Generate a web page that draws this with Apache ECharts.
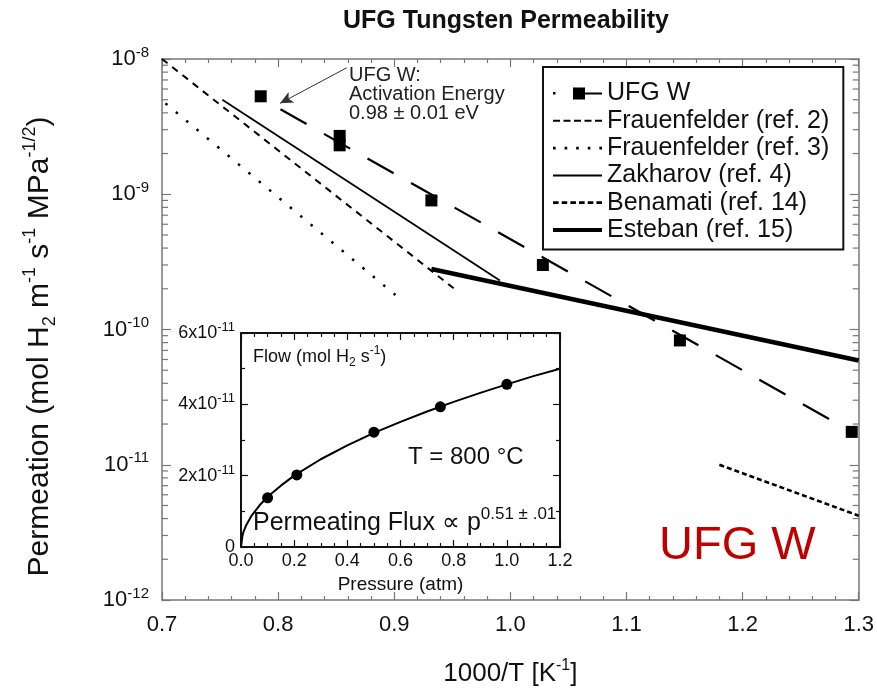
<!DOCTYPE html>
<html>
<head>
<meta charset="utf-8">
<script src="https://cdn.jsdelivr.net/npm/echarts@6.0.0/dist/echarts.min.js"></script>
<style>
  html, body { margin: 0; padding: 0; background: #fff; }
  #chart { width: 877px; height: 695px; }
</style>
</head>
<body>
<div id="chart"></div>
<script>
  // main plot: permeation vs 1000/T
  const ufgX = [0.785, 0.853, 0.853, 0.932, 1.028, 1.146, 1.294];
  const ufgY = [5.3e-9, 2.7e-9, 2.3e-9, 9.0e-10, 3.0e-10, 8.3e-11, 1.75e-11];
  const ufgFitX = [0.802, 1.294];
  const ufgFitY = [4.25e-9, 1.75e-11];
  const frau2X = [0.700, 0.954];
  const frau2Y = [1.0e-8, 1.93e-10];
  const frau3X = [0.703, 0.901];
  const frau3Y = [4.7e-9, 1.8e-10];
  const zakX = [0.752, 0.991];
  const zakY = [5.0e-9, 2.3e-10];
  const benX = [1.180, 1.300];
  const benY = [1.0e-11, 4.2e-12];
  const estX = [0.932, 1.300];
  const estY = [2.8e-10, 5.9e-11];

  // inset: flow vs pressure at 800 C
  const insetP = [0.1, 0.21, 0.5, 0.75, 1.0];
  const insetFlow = [1.38e-11, 2.02e-11, 3.22e-11, 3.93e-11, 4.56e-11];
  const curveP = [0, 0.005, 0.01, 0.02, 0.04, 0.07, 0.1, 0.15, 0.2, 0.3, 0.4, 0.5, 0.6, 0.7, 0.8, 0.9, 1.0, 1.1, 1.2];
  const curveFlow = [0, 0.30e-11, 0.44e-11, 0.62e-11, 0.88e-11, 1.17e-11, 1.41e-11, 1.72e-11, 2.0e-11, 2.46e-11,
    2.85e-11, 3.2e-11, 3.51e-11, 3.8e-11, 4.07e-11, 4.32e-11, 4.56e-11, 4.79e-11, 5.0e-11];

  // log minor ticks
  const decades = [1e-12, 1e-11, 1e-10, 1e-9];
  const mantissas = [2, 3, 4, 5, 6, 7, 8, 9];

  const FONT = '"Liberation Sans", Arial, Helvetica, sans-serif';
  const AX = '#777';

  function pairs(xs, ys) {
    return xs.map((x, i) => [x, ys[i]]);
  }

  const minorTicks = [];
  decades.forEach(d => mantissas.forEach(m => minorTicks.push([0.7, d * m])));

  // legend icons (drawn line samples)
  const icons = {
    ufg: 'path://M0,5h2.5v2.5h-2.5z M20,0.5h12v12h-12z M32,5.5h17v2h-17z',
    frau2: 'path://M0,0h7v2h-7z M10.5,0h7v2h-7z M21,0h7v2h-7z M31.5,0h7v2h-7z M42,0h7v2h-7z',
    frau3: 'path://M0,0h2.5v2.5h-2.5z M11,0h2.5v2.5h-2.5z M22,0h2.5v2.5h-2.5z M33,0h2.5v2.5h-2.5z M44,0h2.5v2.5h-2.5z',
    zak: 'path://M0,0h49v2h-49z',
    ben: 'path://M4,0h4.5v2.2h-4.5z M11,0h4.5v2.2h-4.5z M18,0h4.5v2.2h-4.5z M25,0h4.5v2.2h-4.5z M32,0h4.5v2.2h-4.5z M39,0h4.5v2.2h-4.5z',
    est: 'path://M0,0h49v4h-49z'
  };

  let myChart = echarts.init(document.getElementById('chart'));

  const onZeroOff = { onZero: false };

  let option = {
    animation: false,
    backgroundColor: '#fff',
    textStyle: { fontFamily: FONT },
    title: {
      text: 'UFG Tungsten Permeability',
      left: 338,
      top: 4,
      textStyle: { fontSize: 25, fontWeight: 'bold', color: '#111', fontFamily: FONT }
    },
    legend: {
      orient: 'vertical',
      left: 543,
      top: 67,
      padding: [14, 14, 7, 10],
      borderColor: '#111',
      borderWidth: 2,
      itemWidth: 49,
      itemHeight: 14,
      itemGap: 2.3,
      textStyle: { fontSize: 25, lineHeight: 25, color: '#111', fontFamily: FONT },
      data: [
        { name: 'UFG W', icon: icons.ufg },
        { name: 'Frauenfelder (ref. 2)', icon: icons.frau2 },
        { name: 'Frauenfelder (ref. 3)', icon: icons.frau3 },
        { name: 'Zakharov (ref. 4)', icon: icons.zak },
        { name: 'Benamati (ref. 14)', icon: icons.ben },
        { name: 'Esteban (ref. 15)', icon: icons.est }
      ]
    },
    grid: [
      { left: 162, right: 18, top: 59, bottom: 88 },
      { left: 241, right: 317, top: 333, bottom: 148, show: true, backgroundColor: '#fff', borderWidth: 0 }
    ],
    xAxis: [
      {
        type: 'value', gridIndex: 0, min: 0.7, max: 1.3, interval: 0.1,
        name: '1000/T [K{s|-1}]', nameLocation: 'middle', nameGap: 58,
        nameTextStyle: {
          fontSize: 26, color: '#111', fontFamily: FONT, lineHeight: 32,
          rich: { s: { fontSize: 16, color: '#111', fontFamily: FONT, verticalAlign: 'top', lineHeight: 16 } }
        },
        axisLine: Object.assign({ lineStyle: { color: AX, width: 1.5 } }, onZeroOff),
        axisTick: { inside: true, length: 8, lineStyle: { color: AX, width: 1.2 } },
        minorTick: { show: true, splitNumber: 5, length: 4, lineStyle: { color: AX, width: 1.2 } },
        splitLine: { show: false },
        axisLabel: { fontSize: 22, color: '#111', margin: 14, formatter: v => v.toFixed(1) }
      },
      {
        type: 'value', gridIndex: 0, position: 'top', min: 0.7, max: 1.3, interval: 0.1,
        axisLine: Object.assign({ lineStyle: { color: AX, width: 1.5 } }, onZeroOff),
        axisTick: { inside: true, length: 8, lineStyle: { color: AX, width: 1.2 } },
        minorTick: { show: true, splitNumber: 5, length: 4, lineStyle: { color: AX, width: 1.2 } },
        splitLine: { show: false },
        axisLabel: { show: false }
      },
      {
        type: 'value', gridIndex: 1, min: 0, max: 1.2, interval: 0.2,
        name: 'Pressure (atm)', nameLocation: 'middle', nameGap: 28,
        nameTextStyle: { fontSize: 19, color: '#111', fontFamily: FONT },
        axisLine: Object.assign({ lineStyle: { color: '#111', width: 2 } }, onZeroOff),
        axisTick: { inside: true, length: 7, lineStyle: { color: '#111', width: 1.2 } },
        minorTick: { show: true, splitNumber: 4, length: 4, lineStyle: { color: '#111', width: 1.2 } },
        splitLine: { show: false },
        axisLabel: { fontSize: 18, color: '#111', margin: 5, formatter: v => v.toFixed(1) }
      },
      {
        type: 'value', gridIndex: 1, position: 'top', min: 0, max: 1.2, interval: 0.2,
        axisLine: Object.assign({ lineStyle: { color: '#111', width: 2 } }, onZeroOff),
        axisTick: { inside: true, length: 7, lineStyle: { color: '#111', width: 1.2 } },
        minorTick: { show: true, splitNumber: 4, length: 4, lineStyle: { color: '#111', width: 1.2 } },
        splitLine: { show: false },
        axisLabel: { show: false }
      }
    ],
    yAxis: [
      {
        type: 'log', logBase: 10, gridIndex: 0, min: 1e-12, max: 1e-8,
        name: 'Permeation (mol H{b|2} m{s|-1} s{s|-1} MPa{s|-1/2})',
        nameLocation: 'middle', nameGap: 103,
        nameTextStyle: {
          fontSize: 30, color: '#111', fontFamily: FONT, lineHeight: 38, padding: [0, 34, 0, 0],
          rich: {
            s: { fontSize: 18, color: '#111', fontFamily: FONT, verticalAlign: 'top', lineHeight: 18 },
            b: { fontSize: 18, color: '#111', fontFamily: FONT, verticalAlign: 'bottom', lineHeight: 18 }
          }
        },
        axisLine: Object.assign({ lineStyle: { color: AX, width: 1.5 } }, onZeroOff),
        axisTick: { inside: true, length: 9, lineStyle: { color: AX, width: 1.2 } },
        splitLine: { show: false },
        axisLabel: {
          fontSize: 22, color: '#111', margin: 13, lineHeight: 28,
          formatter: v => '10{s|' + Math.round(Math.log10(v)) + '}',
          rich: { s: { fontSize: 15, color: '#111', fontFamily: FONT, verticalAlign: 'top', lineHeight: 13 } }
        }
      },
      {
        type: 'log', logBase: 10, gridIndex: 0, position: 'right', min: 1e-12, max: 1e-8,
        axisLine: Object.assign({ lineStyle: { color: AX, width: 1.5 } }, onZeroOff),
        axisTick: { inside: true, length: 9, lineStyle: { color: AX, width: 1.2 } },
        splitLine: { show: false },
        axisLabel: { show: false }
      },
      {
        type: 'value', gridIndex: 1, min: 0, max: 6e-11, interval: 2e-11,
        axisLine: Object.assign({ lineStyle: { color: '#111', width: 2 } }, onZeroOff),
        axisTick: { inside: true, length: 7, lineStyle: { color: '#111', width: 1.2 } },
        minorTick: { show: true, splitNumber: 2, length: 4, lineStyle: { color: '#111', width: 1.2 } },
        splitLine: { show: false },
        axisLabel: {
          fontSize: 18, color: '#111', margin: 6, lineHeight: 24,
          formatter: v => {
            const n = Math.round(v * 1e11);
            return n === 0 ? '0' : n + 'x10{s|-11}';
          },
          rich: { s: { fontSize: 13, color: '#111', fontFamily: FONT, verticalAlign: 'top', lineHeight: 11 } }
        }
      },
      {
        type: 'value', gridIndex: 1, position: 'right', min: 0, max: 6e-11, interval: 2e-11,
        axisLine: Object.assign({ lineStyle: { color: '#111', width: 2 } }, onZeroOff),
        axisTick: { inside: true, length: 7, lineStyle: { color: '#111', width: 1.2 } },
        minorTick: { show: true, splitNumber: 2, length: 4, lineStyle: { color: '#111', width: 1.2 } },
        splitLine: { show: false },
        axisLabel: { show: false }
      }
    ],
    series: [
      {
        name: 'UFG W', type: 'scatter', xAxisIndex: 0, yAxisIndex: 0,
        symbol: 'rect', symbolSize: 12, itemStyle: { color: '#000', opacity: 1 },
        data: pairs(ufgX, ufgY),
        z: 5
      },
      {
        name: 'UFG W fit', type: 'line', xAxisIndex: 0, yAxisIndex: 0, symbol: 'none',
        lineStyle: { color: '#000', width: 2.2, type: [30, 20] },
        data: pairs(ufgFitX, ufgFitY),
        markLine: {
          silent: true, symbol: ['none', 'arrow'], symbolSize: [9, 13],
          label: { show: false },
          lineStyle: { color: '#333', width: 1, type: 'solid' },
          data: [[{ coord: [0.859, 8.6e-9] }, { coord: [0.8016, 4.7e-9] }]]
        }
      },
      {
        name: 'Frauenfelder (ref. 2)', type: 'line', xAxisIndex: 0, yAxisIndex: 0, symbol: 'none',
        itemStyle: { color: '#000' },
        lineStyle: { color: '#000', width: 2, type: [7, 6] },
        data: pairs(frau2X, frau2Y)
      },
      {
        name: 'Frauenfelder (ref. 3)', type: 'line', xAxisIndex: 0, yAxisIndex: 0, symbol: 'none',
        itemStyle: { color: '#000' },
        lineStyle: { color: '#000', width: 2.5, type: [2.5, 11] },
        data: pairs(frau3X, frau3Y)
      },
      {
        name: 'Zakharov (ref. 4)', type: 'line', xAxisIndex: 0, yAxisIndex: 0, symbol: 'none',
        itemStyle: { color: '#000' },
        lineStyle: { color: '#000', width: 1.8, type: 'solid' },
        data: pairs(zakX, zakY)
      },
      {
        name: 'Benamati (ref. 14)', type: 'line', xAxisIndex: 0, yAxisIndex: 0, symbol: 'none',
        itemStyle: { color: '#000' },
        lineStyle: { color: '#000', width: 2.5, type: [5, 3] },
        data: pairs(benX, benY)
      },
      {
        name: 'Esteban (ref. 15)', type: 'line', xAxisIndex: 0, yAxisIndex: 0, symbol: 'none',
        itemStyle: { color: '#000' },
        lineStyle: { color: '#000', width: 4.5, type: 'solid' },
        data: pairs(estX, estY)
      },
      {
        name: 'logMinor', type: 'custom', xAxisIndex: 0, yAxisIndex: 0, silent: true,
        renderItem: (params, api) => {
          const v = api.value(1);
          const pl = api.coord([0.7, v]);
          const pr = api.coord([1.3, v]);
          const st = { stroke: AX, lineWidth: 1.2 };
          return {
            type: 'group',
            children: [
              { type: 'line', shape: { x1: pl[0], y1: pl[1], x2: pl[0] + 6, y2: pl[1] }, style: st },
              { type: 'line', shape: { x1: pr[0], y1: pr[1], x2: pr[0] - 6, y2: pr[1] }, style: st }
            ]
          };
        },
        data: minorTicks
      },
      {
        name: 'flow curve', type: 'line', xAxisIndex: 2, yAxisIndex: 2, symbol: 'none',
        lineStyle: { color: '#000', width: 2 },
        data: pairs(curveP, curveFlow)
      },
      {
        name: 'flow points', type: 'scatter', xAxisIndex: 2, yAxisIndex: 2,
        symbol: 'circle', symbolSize: 11, itemStyle: { color: '#000', opacity: 1 },
        data: pairs(insetP, insetFlow)
      }
    ],
    graphic: [
      {
        type: 'text', left: 349, top: 65,
        style: {
          text: 'UFG W:\nActivation Energy\n0.98 \u00b1 0.01 eV',
          fontSize: 20, lineHeight: 19, fill: '#222', fontFamily: FONT
        }
      },
      {
        type: 'text', left: 659, top: 523,
        style: { text: 'UFG W', fontSize: 47, fill: '#c00000', fontFamily: FONT }
      },
      {
        type: 'text', left: 253, top: 345, z: 10,
        style: {
          text: 'Flow (mol H{b|2} s{s|-1})',
          fontSize: 18, fill: '#111', fontFamily: FONT, lineHeight: 24,
          rich: {
            s: { fontSize: 12, fill: '#111', fontFamily: FONT, verticalAlign: 'top', lineHeight: 12 },
            b: { fontSize: 12, fill: '#111', fontFamily: FONT, verticalAlign: 'bottom', lineHeight: 12 }
          }
        }
      },
      {
        type: 'text', left: 408, top: 445, z: 10,
        style: { text: 'T = 800 \u00b0C', fontSize: 24, fill: '#111', fontFamily: FONT }
      },
      {
        type: 'text', left: 253, top: 506, z: 10,
        style: {
          text: 'Permeating Flux \u221d p{s|0.51 \u00b1 .01}',
          fontSize: 25, fill: '#111', fontFamily: FONT, lineHeight: 34,
          rich: { s: { fontSize: 17, fill: '#111', fontFamily: FONT, verticalAlign: 'top', lineHeight: 15 } }
        }
      }
    ]
  };
  myChart.setOption(option);
</script>
</body>
</html>
